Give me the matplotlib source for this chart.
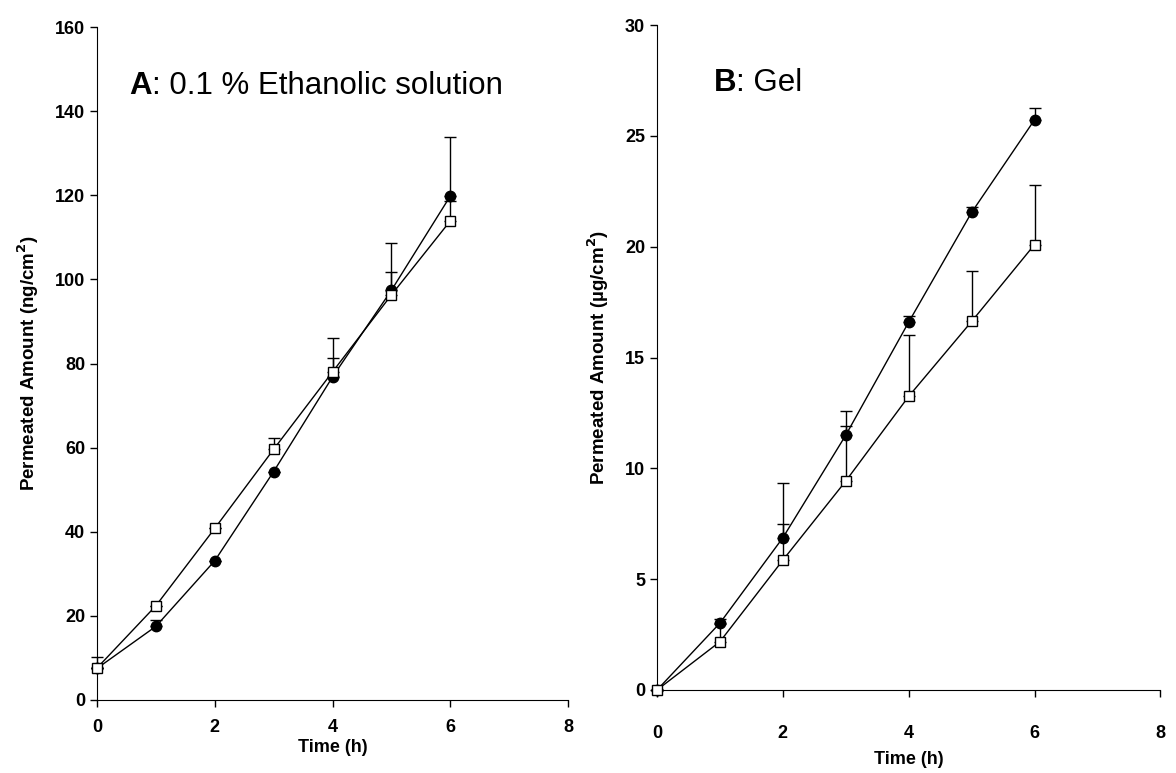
import numpy as np
import matplotlib.pyplot as plt

plt.rcParams['font.family'] = ['Liberation Sans', 'DejaVu Sans']

# time points (h)
time = [0, 1, 2, 3, 4, 5, 6]

# A: 0.1 % ethanolic solution (ng/cm2)
a_filled = [7.5, 17.5, 33.1, 54.3, 76.8, 97.4, 119.8]
a_filled_err = [0.0, 1.6, 0.0, 0.0, 4.4, 11.2, 14.0]
a_open = [7.6, 22.4, 40.8, 59.6, 78.0, 96.3, 113.9]
a_open_err = [2.7, 0.0, 0.0, 2.7, 8.0, 5.5, 4.8]

# B: gel (ug/cm2)
b_filled = [0.0, 3.02, 6.87, 11.5, 16.6, 21.55, 25.73]
b_filled_err = [0.0, 0.2, 2.45, 1.1, 0.27, 0.25, 0.53]
b_open = [0.0, 2.18, 5.86, 9.43, 13.25, 16.63, 20.1]
b_open_err = [0.0, 0.8, 1.63, 2.5, 2.75, 2.3, 2.7]

fig = plt.figure(figsize=(11.76, 7.73), dpi=100)
ax1 = fig.add_axes([0.0825, 0.0945, 0.4005, 0.8705])
ax2 = fig.add_axes([0.5587, 0.1074, 0.428, 0.860])


def draw(ax, y1, e1, y2, e2, pad):
    # upper error bars only
    for y, e in ((y1, e1), (y2, e2)):
        eb = ax.errorbar(time, y, yerr=[np.zeros(len(e)), e], fmt='none', ecolor='black',
                         elinewidth=1, capsize=4, capthick=1, zorder=2)
        for art in eb.lines[1] + eb.lines[2]:
            art.set_clip_on(False)
    ax.plot(time, y1, color='black', lw=1, marker='o', ms=7.5, mfc='black', mec='black',
            zorder=3, clip_on=False)
    ax.plot(time, y2, color='black', lw=1, marker='s', ms=7.5, mfc='white', mec='black',
            mew=1, zorder=4, clip_on=False)
    ax.set_xlim(0, 8)
    ax.set_xticks([0, 2, 4, 6, 8])
    ax.spines['top'].set_visible(False)
    ax.spines['right'].set_visible(False)
    ax.tick_params(direction='out', length=5, width=1, labelsize=13)
    ax.tick_params(axis='x', pad=pad)
    ax.set_xlabel('Time (h)', fontsize=13, fontweight='bold', labelpad=2)


draw(ax1, a_filled, a_filled_err, a_open, a_open_err, 9)
ax1.set_ylim(0, 160)
ax1.set_yticks(range(0, 161, 20))
ax1.set_ylabel('Permeated Amount (ng/cm$^\\mathbf{2}$)', fontsize=13.5, fontweight='bold', labelpad=10)
ta = ax1.text(0.55, 146, 'A', fontsize=22.5, fontweight='bold', va='center', ha='left')
ax1.annotate(': 0.1 % Ethanolic solution', xy=(1, 0.5), xycoords=ta,
             fontsize=22.5, va='center', ha='left')

draw(ax2, b_filled, b_filled_err, b_open, b_open_err, 20)
ax2.set_ylim(0, 30)
ax2.set_yticks(range(0, 31, 5))
ax2.set_ylabel('Permeated Amount (\u00b5g/cm$^\\mathbf{2}$)', fontsize=13.5, fontweight='bold', labelpad=10)
ax2.xaxis.labelpad = 7
tb = ax2.text(0.9, 27.4, 'B', fontsize=22.5, fontweight='bold', va='center', ha='left')
ax2.annotate(': Gel', xy=(1, 0.5), xycoords=tb, fontsize=22.5, va='center', ha='left')

for ax in (ax1, ax2):
    for lab in ax.get_xticklabels() + ax.get_yticklabels():
        lab.set_fontweight('bold')

fig.savefig('out.png', dpi=100)
